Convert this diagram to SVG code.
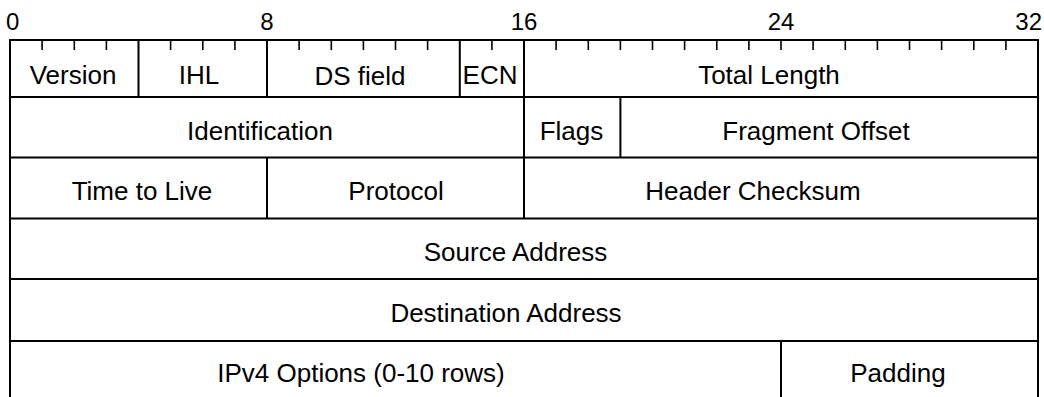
<svg xmlns="http://www.w3.org/2000/svg" width="1044" height="397" viewBox="0 0 1044 397">
<style>
.ln{stroke:#000;stroke-width:2;fill:none}
.tk{stroke:#000;stroke-width:1.6}
.t{font-family:"Liberation Sans",Arial,sans-serif;font-size:26px;fill:#000;text-anchor:middle}
.n{font-family:"Liberation Sans",Arial,sans-serif;font-size:24px;fill:#000;text-anchor:middle}
</style>
<rect width="1044" height="397" fill="#fff"/>
<g id="ruler">
<text class="n" x="6" y="30" style="text-anchor:start">0</text>
<text class="n" x="267" y="30">8</text>
<text class="n" x="524" y="30">16</text>
<text class="n" x="781" y="30">24</text>
<text class="n" x="1042" y="30" style="text-anchor:end">32</text>
<g id="ticks">
<line class="tk" x1="42.1" y1="40" x2="42.1" y2="50"/>
<line class="tk" x1="74.3" y1="40" x2="74.3" y2="50"/>
<line class="tk" x1="106.4" y1="40" x2="106.4" y2="50"/>
<line class="tk" x1="170.6" y1="40" x2="170.6" y2="50"/>
<line class="tk" x1="202.8" y1="40" x2="202.8" y2="50"/>
<line class="tk" x1="234.9" y1="40" x2="234.9" y2="50"/>
<line class="tk" x1="299.1" y1="40" x2="299.1" y2="50"/>
<line class="tk" x1="331.3" y1="40" x2="331.3" y2="50"/>
<line class="tk" x1="363.4" y1="40" x2="363.4" y2="50"/>
<line class="tk" x1="395.5" y1="40" x2="395.5" y2="50"/>
<line class="tk" x1="427.6" y1="40" x2="427.6" y2="50"/>
<line class="tk" x1="491.9" y1="40" x2="491.9" y2="50"/>
<line class="tk" x1="556.1" y1="40" x2="556.1" y2="50"/>
<line class="tk" x1="588.3" y1="40" x2="588.3" y2="50"/>
<line class="tk" x1="620.4" y1="40" x2="620.4" y2="50"/>
<line class="tk" x1="652.5" y1="40" x2="652.5" y2="50"/>
<line class="tk" x1="684.6" y1="40" x2="684.6" y2="50"/>
<line class="tk" x1="716.8" y1="40" x2="716.8" y2="50"/>
<line class="tk" x1="748.9" y1="40" x2="748.9" y2="50"/>
<line class="tk" x1="781" y1="40" x2="781" y2="50"/>
<line class="tk" x1="813.1" y1="40" x2="813.1" y2="50"/>
<line class="tk" x1="845.3" y1="40" x2="845.3" y2="50"/>
<line class="tk" x1="877.4" y1="40" x2="877.4" y2="50"/>
<line class="tk" x1="909.5" y1="40" x2="909.5" y2="50"/>
<line class="tk" x1="941.6" y1="40" x2="941.6" y2="50"/>
<line class="tk" x1="973.8" y1="40" x2="973.8" y2="50"/>
<line class="tk" x1="1005.9" y1="40" x2="1005.9" y2="50"/>
</g>
</g>
<g id="grid">
<path class="ln" d="M10,400 V40 H1038 V400"/>
<path class="ln" d="M10,97 H1038 M10,157.5 H1038 M10,218.5 H1038 M10,279 H1038 M10,341 H1038"/>
<path class="ln" d="M138.5,40 V97 M267,40 V97 M459.8,40 V97 M524,40 V218.5 M620.4,97 V157.5 M267,157.5 V218.5 M781,341 V400"/>
</g>
<g id="version"><text class="t" x="73" y="84">Version</text></g>
<g id="ihl"><text class="t" x="199" y="84">IHL</text></g>
<g id="ds"><text class="t" x="360" y="85">DS field</text></g>
<g id="ecn"><text class="t" x="490" y="83.5">ECN</text></g>
<g id="total-length"><text class="t" x="769" y="83.5">Total Length</text></g>
<g id="identification"><text class="t" x="260" y="139.5">Identification</text></g>
<g id="flags"><text class="t" x="571.5" y="139.5">Flags</text></g>
<g id="fragment-offset"><text class="t" x="816" y="139.5">Fragment Offset</text></g>
<g id="ttl"><text class="t" x="142" y="200">Time to Live</text></g>
<g id="protocol"><text class="t" x="396" y="200">Protocol</text></g>
<g id="checksum"><text class="t" x="753" y="200">Header Checksum</text></g>
<g id="source"><text class="t" x="515.5" y="261">Source Address</text></g>
<g id="destination"><text class="t" x="506" y="322">Destination Address</text></g>
<g id="options"><text class="t" x="361" y="382">IPv4 Options (0-10 rows)</text></g>
<g id="padding"><text class="t" x="898" y="382">Padding</text></g>
</svg>
